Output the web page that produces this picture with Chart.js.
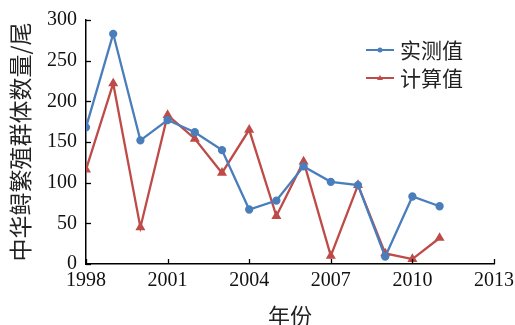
<!DOCTYPE html>
<html><head><meta charset="utf-8">
<script src="https://cdn.jsdelivr.net/npm/chart.js@4"></script>
<style>html,body{margin:0;padding:0;background:#fff}</style>
</head><body>
<canvas id="c" width="515" height="325" style="width:515px;height:325px;display:block"></canvas>
<script>
const years=[1998,1999,2000,2001,2002,2003,2004,2005,2006,2007,2008,2009,2010,2011];
const measured=[168,283,152,177,162,140,67,78,120,101,97,9,83,71];
const computed=[116,222,45,183,154,112,165,59,126,10,97,13,6,32];
const xTicks=[1998,2001,2004,2007,2010,2013];
const yTicks=[0,50,100,150,200,250,300];
const seriesNames=['实测值','计算值'];
const blue='#4A7EBB', red='#BE4B48';
const cjk='"Noto Sans CJK SC", "Noto Sans", sans-serif';
const serif='"Liberation Serif", "DejaVu Serif", serif';

const tickPlugin={id:'inTicks',afterDraw(chart){
  const ctx=chart.ctx, xs=chart.scales.x, ys=chart.scales.y;
  ctx.save();ctx.strokeStyle='#000';ctx.lineWidth=1.3;
  const by=ys.getPixelForValue(0), lx=xs.getPixelForValue(1998);
  xTicks.forEach(v=>{const px=Math.round(xs.getPixelForValue(v))+0.5;ctx.beginPath();ctx.moveTo(px,by);ctx.lineTo(px,by-5);ctx.stroke();});
  yTicks.forEach(v=>{const py=Math.round(ys.getPixelForValue(v))+0.5;ctx.beginPath();ctx.moveTo(lx,py);ctx.lineTo(lx+5,py);ctx.stroke();});
  const cols=[blue,red];
  ctx.font='21px '+cjk;ctx.textBaseline='middle';ctx.textAlign='left';
  [50,78].forEach((y,i)=>{
    ctx.strokeStyle=cols[i];ctx.lineWidth=2;ctx.beginPath();ctx.moveTo(366,y);ctx.lineTo(394,y);ctx.stroke();
    ctx.fillStyle=cols[i];ctx.beginPath();
    if(i===0){ctx.arc(380,y,2.5,0,Math.PI*2);}else{ctx.moveTo(380,y-3);ctx.lineTo(383,y+2);ctx.lineTo(377,y+2);ctx.closePath();}
    ctx.fill();
    ctx.fillStyle='#222';ctx.fillText(seriesNames[i],400,y);
  });
  ctx.restore();
}};

new Chart(document.getElementById('c'),{
  type:'line',
  data:{datasets:[
    {label:seriesNames[0],data:years.map((x,i)=>({x,y:measured[i]})),borderColor:blue,backgroundColor:blue,borderWidth:2.3,pointRadius:3,pointStyle:'circle',tension:0},
    {label:seriesNames[1],data:years.map((x,i)=>({x,y:computed[i]})),borderColor:red,backgroundColor:red,borderWidth:2.3,pointRadius:3.5,pointStyle:'triangle',tension:0}
  ]},
  options:{
    responsive:false,animation:false,
    layout:{padding:{top:20,right:21,left:0,bottom:0}},
    plugins:{legend:{display:false},tooltip:{enabled:false}},
    scales:{
      x:{type:'linear',min:1998,max:2013,
        afterBuildTicks(s){s.ticks=xTicks.map(v=>({value:v}));},
        afterFit(s){s.height=61;s.paddingLeft=0;s.paddingRight=0;},
        grid:{display:true,drawOnChartArea:false,drawTicks:false},
        border:{display:true,color:'#000',width:1.5},
        ticks:{color:'#111',font:{family:serif,size:20},padding:5,maxRotation:0,autoSkip:false,callback:v=>String(v)},
        title:{display:true,text:'年份',color:'#222',font:{family:cjk,size:22},padding:{top:0,bottom:-4}}
      },
      y:{min:0,max:300,
        afterBuildTicks(s){s.ticks=yTicks.map(v=>({value:v}));},
        afterFit(s){s.width=86;s.paddingTop=0;s.paddingBottom=0;},
        grid:{display:true,drawOnChartArea:false,drawTicks:false},
        border:{display:true,color:'#000',width:1.5},
        ticks:{color:'#111',font:{family:serif,size:20},padding:9,callback:v=>String(v)},
        title:{display:true,text:'中华鲟繁殖群体数量/尾',color:'#222',font:{family:cjk,size:23},padding:{top:6,bottom:0}}
      }
    }
  },
  plugins:[tickPlugin]
});
</script>
</body></html>
